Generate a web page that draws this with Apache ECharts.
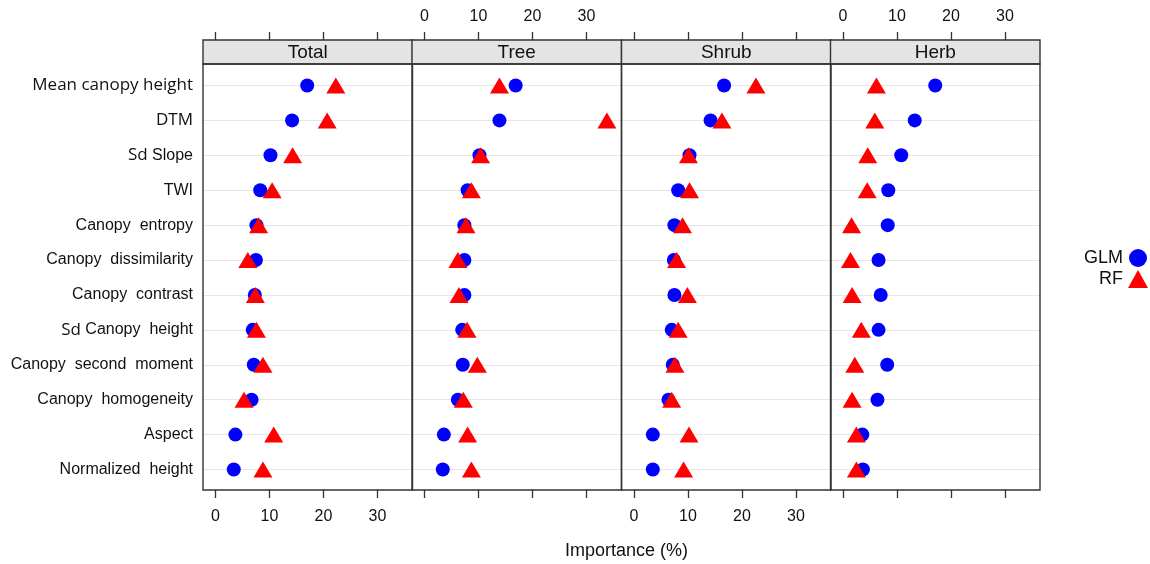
<!DOCTYPE html>
<html>
<head>
<meta charset="utf-8">
<script src="https://cdn.jsdelivr.net/npm/echarts@6/dist/echarts.min.js"></script>
<style>html,body{margin:0;padding:0;background:#fff;}#c{width:1150px;height:564px;}</style>
</head>
<body>
<div id="c"></div>
<script>
const categories = ['Mean canopy height','DTM','Sd Slope','TWI','Canopy  entropy','Canopy  dissimilarity','Canopy  contrast','Sd Canopy  height','Canopy  second  moment','Canopy  homogeneity','Aspect','Normalized  height'];
const panels = ['Total','Tree','Shrub','Herb'];
const xTicks = [0, 10, 20, 30];
const totalGLM = [17.0,14.2,10.2,8.3,7.6,7.5,7.3,6.9,7.1,6.7,3.7,3.4];
const totalRF  = [22.3,20.7,14.3,10.5,8.0,6.0,7.4,7.6,8.8,5.3,10.8,8.8];
const treeGLM  = [16.9,13.9,10.2,8.0,7.4,7.4,7.4,7.0,7.1,6.2,3.6,3.4];
const treeRF   = [13.9,33.8,10.4,8.7,7.7,6.2,6.4,7.9,9.8,7.2,8.0,8.7];
const shrubGLM = [16.7,14.2,10.3,8.2,7.5,7.4,7.5,7.0,7.2,6.4,3.5,3.5];
const shrubRF  = [22.6,16.3,10.1,10.3,9.0,7.9,9.9,8.2,7.6,7.0,10.2,9.2];
const herbGLM  = [17.1,13.3,10.8,8.4,8.3,6.6,7.0,6.6,8.2,6.4,3.6,3.7];
const herbRF   = [6.2,5.9,4.6,4.5,1.6,1.4,1.7,3.4,2.2,1.7,2.5,2.5];

const glmData = [totalGLM, treeGLM, shrubGLM, herbGLM];
const rfData = [totalRF, treeRF, shrubRF, herbRF];

const panelLeft = [203, 412, 621.5, 830.5];
const panelW = 209.5;
const gridTop = 85.5, gridH = 384;
const stripTop = 40, stripBot = 64, panelBot = 490;
const xMin = -2.3, xMax = 36.5;
const FONT = '"Liberation Sans", Arial, sans-serif';

const grids = [], xAxes = [], yAxes = [], series = [], graphics = [];
panels.forEach((p, i) => {
  grids.push({left: panelLeft[i], top: gridTop, width: panelW, height: gridH, containLabel: false});
  const labelsBottom = (i % 2 === 0);
  const axisCommon = {
    type: 'value', gridIndex: i, min: xMin, max: xMax,
    splitLine: {show: false},
    axisLine: {show: false},
    axisTick: {show: true, inside: false, length: 8, customValues: xTicks, lineStyle: {color: '#333', width: 1.3}},
  };
  xAxes.push(Object.assign({}, axisCommon, {
    position: 'bottom', offset: panelBot - (gridTop + gridH),
    axisLabel: {show: labelsBottom, customValues: xTicks, color: '#111', fontSize: 16, fontFamily: FONT, margin: 19}
  }));
  xAxes.push(Object.assign({}, axisCommon, {
    position: 'top', offset: gridTop - stripTop,
    axisLabel: {show: !labelsBottom, customValues: xTicks, color: '#111', fontSize: 16, fontFamily: FONT, margin: 15}
  }));
  yAxes.push({
    type: 'category', gridIndex: i, data: categories, inverse: true, boundaryGap: false,
    axisLine: {show: false}, axisTick: {show: false},
    splitLine: {show: true, lineStyle: {color: '#e6e6e6', width: 1.2}},
    axisLabel: i === 0 ? {
      show: true, margin: 10, color: '#111', fontSize: 16, fontFamily: FONT,
      formatter: function (v) {
        if (v === 'Mean canopy height' || v === 'DTM') return '{c|' + v + '}';
        if (v.indexOf('Sd ') === 0) return '{c|Sd} ' + v.slice(3);
        return v;
      },
      rich: {c: {fontFamily: '"Open Sans", sans-serif', fontSize: 17, color: '#111'}}
    } : {show: false}
  });
  series.push({
    name: 'GLM', type: 'scatter', xAxisIndex: 2 * i, yAxisIndex: i,
    symbol: 'circle', symbolSize: 14, itemStyle: {color: '#0000ff', opacity: 1},
    data: glmData[i].map((v, k) => [v, categories[k]]), z: 3
  });
  series.push({
    name: 'RF', type: 'scatter', xAxisIndex: 2 * i, yAxisIndex: i,
    symbol: 'triangle', symbolSize: [19, 16], itemStyle: {color: '#ff0000', opacity: 1},
    data: rfData[i].map((v, k) => [v, categories[k]]), z: 4
  });
  graphics.push({
    type: 'rect', shape: {x: panelLeft[i], y: stripTop, width: panelW, height: stripBot - stripTop},
    style: {fill: '#e4e4e4', stroke: '#333', lineWidth: 1.4}, z: 10
  });
  graphics.push({
    type: 'text', x: panelLeft[i] + panelW / 2, y: (stripTop + stripBot) / 2 + 1,
    style: {text: p, fill: '#111', font: '19px ' + FONT, textAlign: 'center', textVerticalAlign: 'middle'}, z: 11
  });
  graphics.push({
    type: 'rect', shape: {x: panelLeft[i], y: stripBot, width: panelW, height: panelBot - stripBot},
    style: {fill: 'none', stroke: '#333', lineWidth: 1.4}, z: 10
  });
});

const chart = echarts.init(document.getElementById('c'), null, {renderer: 'canvas'});
chart.setOption({
  animation: false,
  backgroundColor: '#fff',
  grid: grids,
  xAxis: xAxes,
  yAxis: yAxes,
  series: series,
  graphic: graphics,
  title: {
    text: 'Importance (%)', left: 621.5, top: 537, textAlign: 'center',
    textStyle: {fontSize: 18, fontWeight: 'normal', color: '#111', fontFamily: FONT}
  },
  legend: {
    data: [{name: 'GLM', icon: 'circle'}, {name: 'RF', icon: 'triangle'}],
    orient: 'vertical', left: 1079, top: 244, align: 'right',
    itemWidth: 20, itemHeight: 18, itemGap: 3,
    textStyle: {fontSize: 18, color: '#111', fontFamily: FONT, padding: [0, 0, 0, 0]},
    selectedMode: false
  }
});
</script>
</body>
</html>
